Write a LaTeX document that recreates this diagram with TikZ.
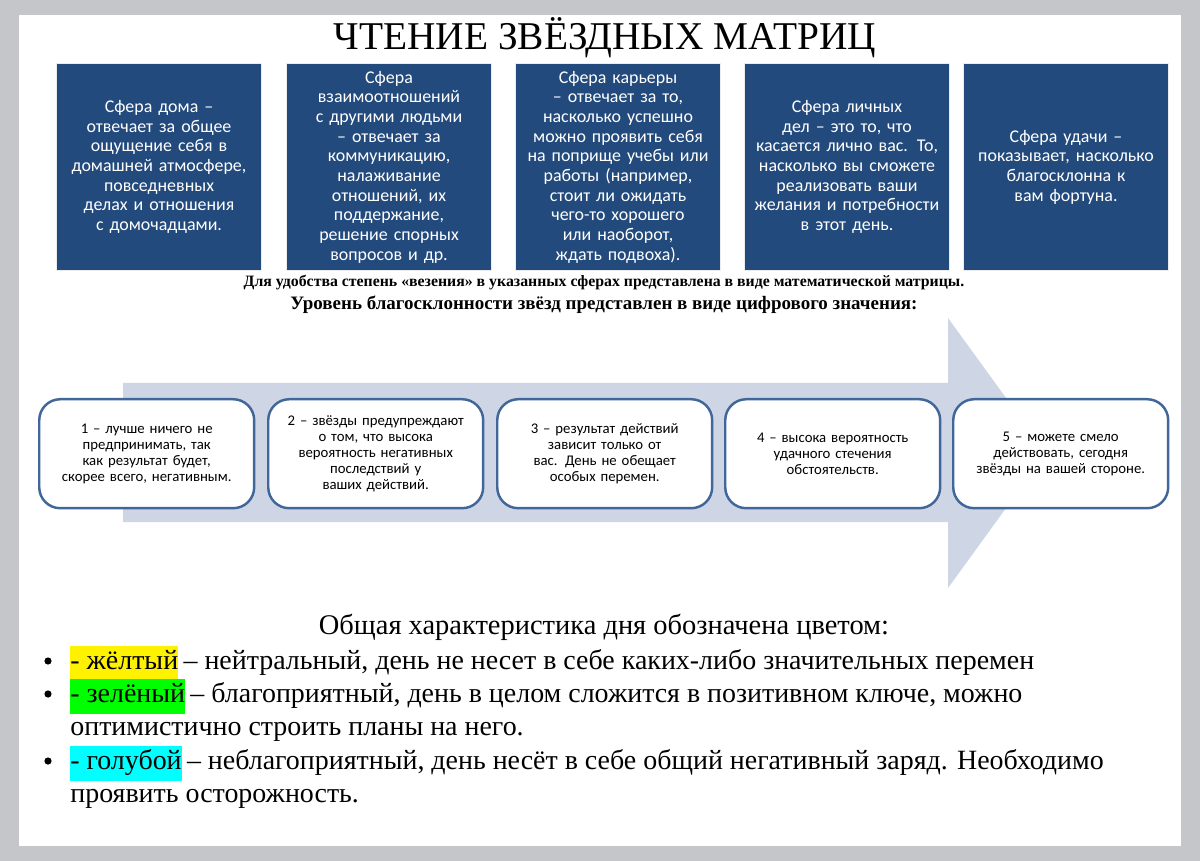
\documentclass[tikz,border=0pt]{standalone}
\usepackage{fontspec}
\setmainfont{Liberation Serif}
\newfontfamily\boxfont{Carlito}
\usetikzlibrary{positioning}
\definecolor{sferablue}{HTML}{234A7C}
\definecolor{arrowgray}{HTML}{CED6E6}
\definecolor{levelline}{HTML}{41679A}
\definecolor{framegray}{HTML}{C4C6CA}
\definecolor{aqua}{HTML}{00FFFF}
\begin{document}
\begin{tikzpicture}[x=0.02cm,y=-0.02cm,
		sfera/.style={fill=sferablue,draw=white!85!gray,line width=0.6pt,minimum width=4.1cm,minimum height=4.14cm,
			text width=3.75cm,align=center,text=white,font=\boxfont\fontsize{10.2}{11.2}\selectfont,anchor=north west,inner sep=1pt},
		level/.style={fill=white,draw=levelline,line width=1.4pt,rounded corners=0.42cm,minimum width=4.3cm,minimum height=2.18cm,
			text width=3.55cm,align=center,font=\boxfont\fontsize{8.4}{9.1}\selectfont,anchor=north west},
		line/.style={anchor=base west,inner sep=0pt,font=\fontsize{15.9}{18}\selectfont},
		hilite/.style={anchor=base west,inner xsep=0pt,inner ysep=0pt,text depth=0.24cm,text height=0.46cm,font=\fontsize{15.9}{18}\selectfont}]
	\useasboundingbox (0,0) rectangle (1200,861);
	\fill[framegray] (0,0) rectangle (1200,861);
	\fill[white] (19,15) rectangle (1181,846);
	% title
	\node (title) at (605,38) {\fontsize{22.4}{26}\selectfont ЧТЕНИЕ ЗВЁЗДНЫХ МАТРИЦ};
	% spheres
	\node[sfera] (s1) at (56,63) {Сфера дома – отвечает за общее ощущение себя в домашней атмосфере, повседневных делах и отношения с домочадцами.};
	\node[sfera] (s2) at (286,63) {Сфера взаимоотношений с другими людьми – отвечает за коммуникацию, налаживание отношений, их поддержание, решение спорных вопросов и др.};
	\node[sfera] (s3) at (515,63) {Сфера карьеры – отвечает за то, насколько успешно можно проявить себя на поприще учебы или работы (например, стоит ли ожидать чего-то хорошего или наоборот, ждать подвоха).};
	\node[sfera] (s4) at (744,63) {Сфера личных дел – это то, что касается лично вас. То, насколько вы сможете реализовать ваши желания и потребности в этот день.};
	\node[sfera] (s5) at (963,63) {Сфера удачи – показывает, насколько благосклонна к вам фортуна.};
	\node (note1) at (604,283) {\fontsize{9}{10}\selectfont\bfseries Для удобства степень «везения» в указанных сферах представлена в виде математической матрицы.};
	\node (note2) at (604,305) {\fontsize{10.8}{12}\selectfont\bfseries Уровень благосклонности звёзд представлен в виде цифрового значения:};
	% arrow
	\fill[arrowgray] (123,383) -- (948,383) -- (948,318) -- (1046,453) -- (948,588) -- (948,522) -- (123,522) -- cycle;
	\node[level] (l1) at (38,398) {1 – лучше ничего не предпринимать, так как результат будет, скорее всего, негативным.};
	\node[level] (l2) at (267,398) {2 – звёзды предупреждают о том, что высока вероятность негативных последствий у ваших действий.};
	\node[level] (l3) at (496,398) {3 – результат действий зависит только от вас. День не обещает особых перемен.};
	\node[level] (l4) at (724,398) {4 – высока вероятность удачного стечения обстоятельств.};
	\node[level] (l5) at (952,398) {5 – можете смело действовать, сегодня звёзды на вашей стороне.};
	% colour legend
	\node (legend) at (604,627) {\fontsize{16.2}{18}\selectfont Общая характеристика дня обозначена цветом:};
	\foreach \Y in {661,694,761} {\fill (48,\Y) circle (3.6);}
	\node[hilite,fill=yellow] (m1) at (70,669) {- жёлтый};
	\node[line,right=0pt of m1.base east,anchor=base west] (t1) {\,– нейтральный, день не несет в себе каких-либо значительных перемен};
	\node[hilite,fill=green] (m2) at (70,702) {- зелёный};
	\node[line,right=0pt of m2.base east,anchor=base west] (t2) {\,– благоприятный, день в целом сложится в позитивном ключе, можно};
	\node[line] (t2b) at (70,735) {оптимистично строить планы на него.};
	\node[hilite,fill=aqua] (m3) at (70,769) {- голубой};
	\node[line,right=0pt of m3.base east,anchor=base west] (t3) {\,– неблагоприятный, день несёт в себе общий негативный заряд. Необходимо};
	\node[line] (t3b) at (70,802) {проявить осторожность.};
\end{tikzpicture}
\end{document}
